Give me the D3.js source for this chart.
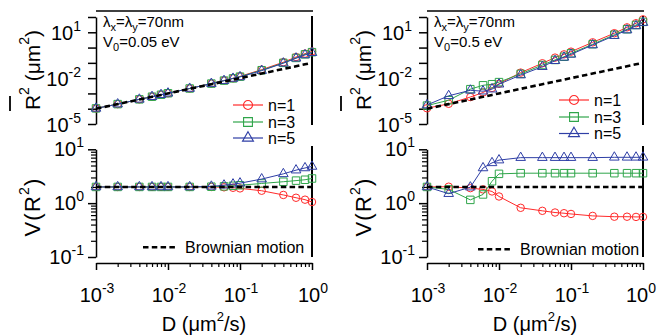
<!DOCTYPE html>
<html><head><meta charset="utf-8">
<script src="https://cdn.jsdelivr.net/npm/d3@7/dist/d3.min.js"></script>
<style>
body{margin:0;background:#fff}
text{font-family:"Liberation Sans",Arial,Helvetica,sans-serif;fill:#000}
</style>
</head><body>
<svg id="c" width="657" height="335"></svg>
<script>
// ---------------- data ----------------
const D_VALUES = [0.001,0.002,0.004,0.006,0.008,0.01,0.02,0.04,0.06,0.08,0.1,0.2,0.4,0.6,0.8,1.0];
const R2_BROWN = [1e-4,2e-4,4e-4,6e-4,8e-4,1e-3,2e-3,4e-3,6e-3,8e-3,1e-2,2e-2,4e-2,6e-2,8e-2,0.1];
const VR2_BROWN = [2,2,2,2,2,2,2,2,2,2,2,2,2,2,2,2];

// V0 = 0.05 eV
const R2_LOW_N1 = [1.05e-4,2.0e-4,4.1e-4,6.1e-4,8.2e-4,1.03e-3,2.1e-3,4.4e-3,7.0e-3,9.8e-3,1.3e-2,3.6e-2,0.11,0.24,0.40,0.56];
const R2_LOW_N3 = [1.05e-4,2.0e-4,4.1e-4,6.1e-4,8.2e-4,1.03e-3,2.1e-3,4.4e-3,6.9e-3,9.6e-3,1.25e-2,3.3e-2,0.10,0.21,0.36,0.50];
const R2_LOW_N5 = [1.05e-4,2.0e-4,4.1e-4,6.1e-4,8.2e-4,1.03e-3,2.1e-3,4.4e-3,6.8e-3,9.5e-3,1.2e-2,3.1e-2,0.095,0.20,0.33,0.46];
const V_LOW_N1 = [2,2,2,2,2,2,2,2,1.97,1.93,1.88,1.7,1.42,1.26,1.16,1.05];
const V_LOW_N3 = [2,2,2,2,2,2,2,2.02,2.05,2.1,2.15,2.32,2.5,2.62,2.72,2.87];
const V_LOW_N5 = [2,2,2,2,2,2,2,2.05,2.15,2.25,2.35,2.8,3.5,4.1,4.5,4.8];

// V0 = 0.5 eV
const R2_HIGH_N1 = [1.07e-4,2.1e-4,5.8e-4,1.15e-3,2.3e-3,4.3e-3,0.023,0.094,0.22,0.36,0.54,2.2,8.7,21,39,70];
const R2_HIGH_N3 = [1.6e-4,3.6e-4,1.9e-3,3.4e-3,4.0e-3,5.5e-3,0.019,0.072,0.155,0.25,0.42,1.65,6.9,15.8,30,48];
const R2_HIGH_N5 = [1.75e-4,7.0e-4,1.6e-3,1.4e-3,1.9e-3,4.0e-3,0.016,0.056,0.138,0.23,0.36,1.48,6.0,14,26,43];
const V_HIGH_N1 = [2.0,2.02,1.9,1.8,1.65,1.33,0.82,0.72,0.67,0.65,0.63,0.58,0.56,0.56,0.555,0.555];
const V_HIGH_N3 = [2.0,1.8,1.15,1.45,2.55,3.5,3.6,3.6,3.6,3.6,3.6,3.6,3.6,3.6,3.6,3.6];
const V_HIGH_N5 = [2.0,1.5,1.98,4.5,5.6,6.3,7.0,7.0,7.0,7.0,7.0,7.0,7.1,7.1,7.1,7.1];

const SERIES_LABELS = ['n=1','n=3','n=5'];
const BROWN_LABEL = 'Brownian motion';
const X_TICK_EXP = ['-3','-2','-1','0'];
const YTOP_TICK_EXP = ['1','-2','-5'];
const YBOT_TICK_EXP = ['1','0','-1'];
const V0_LABELS = ['0.05 eV','0.5 eV'];

// ---------------- drawing ----------------
const W = 657;
const svg = d3.select('#c');
const COLORS = ['#ff2a2a','#2fa54a','#2f3fa6'];
const SYMBOLS = [d3.symbolCircle, d3.symbolSquare, d3.symbolTriangle];
const DATA_SIZES = [44, 56, 40];
const LEG_SIZES = [64, 78, 52];

function zip(xs, ys){ return xs.map((x,i)=>[x, ys[i]]); }

function styleAxis(g, w){
  g.selectAll('path,line').attr('stroke','#000').attr('stroke-width', w);
  g.selectAll('text').remove();
}

function pow10(g, x, y, exp, anchor, fs, sfs, dy){
  const t = g.append('text').attr('x',x).attr('y',y).attr('text-anchor',anchor)
    .style('font-size', fs+'px');
  t.append('tspan').text('10');
  t.append('tspan').attr('dy',-dy).style('font-size', sfs+'px').text(exp);
  return t;
}

function minorTicks(lo, hi){
  const out = [];
  for (let e = Math.round(Math.log10(lo)); e < Math.round(Math.log10(hi)); e++){
    for (let k = 2; k <= 9; k++) out.push(k * Math.pow(10, e));
  }
  return out;
}

function panel(ox, leg, v0label, r2Series, vSeries){
  const x = d3.scaleLog().domain([1e-3, 1]).range([ox, ox + 216]);
  const yT = d3.scaleLog().domain([1e-5, 1e2]).range([124, 17]);
  const yB = d3.scaleLog().domain([0.1, 10]).range([257, 149.3]);
  const g = svg.append('g');

  // frame lines (mirror)
  g.append('line').attr('x1', ox).attr('x2', ox + 217).attr('y1', 11).attr('y2', 11)
    .attr('stroke','#000').attr('stroke-width',1.5);
  g.append('line').attr('x1', ox + 216).attr('x2', ox + 216).attr('y1', 16).attr('y2', 125)
    .attr('stroke','#000').attr('stroke-width',2);
  g.append('line').attr('x1', ox + 216).attr('x2', ox + 216).attr('y1', 146).attr('y2', 257)
    .attr('stroke','#000').attr('stroke-width',2);

  // top y axis
  const topDec = [1e-5,1e-4,1e-3,1e-2,1e-1,1,10,100];
  g.append('g').attr('transform',`translate(${ox},0)`)
    .call(d3.axisLeft(yT).tickValues(topDec).tickSize(8).tickSizeOuter(0).tickFormat(''))
    .call(a => styleAxis(a, 1.5));
  [10, 1e-2, 1e-5].forEach((v,i) => pow10(g, ox - 15, yT(v) + 7.5, YTOP_TICK_EXP[i], 'end', 20, 14, 9));

  // bottom y axis
  g.append('g').attr('transform',`translate(${ox},0)`)
    .call(d3.axisLeft(yB).tickValues([0.1,1,10]).tickSize(8).tickSizeOuter(0).tickFormat(''))
    .call(a => styleAxis(a, 1.5));
  g.append('g').attr('transform',`translate(${ox},0)`)
    .call(d3.axisLeft(yB).tickValues(minorTicks(0.1,10)).tickSize(5).tickSizeOuter(0).tickFormat(''))
    .call(a => { styleAxis(a, 1.2); a.select('.domain').remove(); });
  [10, 1, 0.1].forEach((v,i) => pow10(g, ox - 12, yB(v) + 7, YBOT_TICK_EXP[i], 'end', 20, 14, 9));

  // x axis
  g.append('g').attr('transform','translate(0,263)')
    .call(d3.axisBottom(x).tickValues([1e-3,1e-2,1e-1,1]).tickSize(7).tickSizeOuter(0).tickFormat(''))
    .call(a => styleAxis(a, 1.5));
  g.append('g').attr('transform','translate(0,263)')
    .call(d3.axisBottom(x).tickValues(minorTicks(1e-3,1)).tickSize(4).tickSizeOuter(0).tickFormat(''))
    .call(a => { styleAxis(a, 1.2); a.select('.domain').remove(); });
  [1e-3,1e-2,1e-1,1].forEach((v,i) => {
    const t = pow10(g, x(v) + 1, 302, X_TICK_EXP[i], 'middle', 20, 14, 9);
    const bb = t.node().getBBox();
    if (bb.x + bb.width > W - 1) t.attr('text-anchor','end').attr('x', W - 1);
  });

  // axis titles
  const xt = g.append('text').attr('x', ox + 108).attr('y', 331).attr('text-anchor','middle')
    .style('font-size','20px');
  xt.append('tspan').text('D (\u03bcm');
  xt.append('tspan').attr('dy',-10).style('font-size','13px').text('2');
  xt.append('tspan').attr('dy',10).text('/s)');

  const yt = g.append('text').style('font-size','21px');
  yt.append('tspan').text('R');
  yt.append('tspan').attr('dy',-11).style('font-size','14px').text('2');
  yt.append('tspan').attr('dy',11).text(' (\u03bcm');
  yt.append('tspan').attr('dy',-11).style('font-size','14px').text('2');
  yt.append('tspan').attr('dy',11).text(')');
  const Lt = yt.node().getComputedTextLength();
  const ys = 70 + Lt/2;
  yt.attr('transform',`translate(${ox - 56},${ys}) rotate(-90)`);
  g.append('line').attr('x1', ox - 86).attr('x2', ox - 86).attr('y1', ys + 1).attr('y2', ys - 14)
    .attr('stroke','#000').attr('stroke-width',1.8);

  const vt = g.append('text').style('font-size','22px').style('letter-spacing','1.2px');
  vt.append('tspan').text('V(R');
  vt.append('tspan').attr('dy',-11).style('font-size','14px').text('2');
  vt.append('tspan').attr('dy',11).text(')');
  const Lv = vt.node().getComputedTextLength();
  vt.attr('transform',`translate(${ox - 56},${207 + Lv/2}) rotate(-90)`);

  // annotation
  const a1 = g.append('text').attr('x', ox + 7).attr('y', 27).style('font-size','15px');
  a1.append('tspan').text('\u03bb');
  a1.append('tspan').attr('dy',4).style('font-size','11px').text('x');
  a1.append('tspan').attr('dy',-4).text('=\u03bb');
  a1.append('tspan').attr('dy',4).style('font-size','11px').text('y');
  a1.append('tspan').attr('dy',-4).text('=70nm');
  const a2 = g.append('text').attr('x', ox + 7).attr('y', 47).style('font-size','15px');
  a2.append('tspan').text('V');
  a2.append('tspan').attr('dy',4).style('font-size','11px').text('0');
  a2.append('tspan').attr('dy',-4).text('=' + v0label);

  // series
  const lineT = d3.line().x(d => x(d[0])).y(d => yT(d[1]));
  const lineB = d3.line().x(d => x(d[0])).y(d => yB(d[1]));
  r2Series.forEach((s,i) => {
    const pts = zip(D_VALUES, s);
    g.append('path').attr('d', lineT(pts)).attr('fill','none').attr('stroke', COLORS[i]).attr('stroke-width',1);
    g.selectAll(null).data(pts).enter().append('path')
      .attr('d', d3.symbol(SYMBOLS[i], DATA_SIZES[i]))
      .attr('transform', d => `translate(${x(d[0])},${yT(d[1])})`)
      .attr('fill','none').attr('stroke', COLORS[i]).attr('stroke-width',1);
  });
  vSeries.forEach((s,i) => {
    const pts = zip(D_VALUES, s);
    g.append('path').attr('d', lineB(pts)).attr('fill','none').attr('stroke', COLORS[i]).attr('stroke-width',1);
    g.selectAll(null).data(pts).enter().append('path')
      .attr('d', d3.symbol(SYMBOLS[i], DATA_SIZES[i]))
      .attr('transform', d => `translate(${x(d[0])},${yB(d[1])})`)
      .attr('fill','none').attr('stroke', COLORS[i]).attr('stroke-width',1);
  });
  // Brownian
  g.append('path').attr('d', lineT(zip(D_VALUES, R2_BROWN))).attr('fill','none')
    .attr('stroke','#000').attr('stroke-width',2.6).attr('stroke-dasharray','5.5,3.3');
  g.append('path').attr('d', lineB(zip(D_VALUES, VR2_BROWN))).attr('fill','none')
    .attr('stroke','#000').attr('stroke-width',2.6).attr('stroke-dasharray','5.5,3.3');

  // legend (series)
  SERIES_LABELS.forEach((lab,i) => {
    const y = leg.rows[i];
    const lx = ox + leg.dx;
    g.append('line').attr('x1', lx).attr('x2', lx + 30).attr('y1', y).attr('y2', y)
      .attr('stroke', COLORS[i]).attr('stroke-width',1.2);
    g.append('path').attr('d', d3.symbol(SYMBOLS[i], LEG_SIZES[i]))
      .attr('transform', `translate(${lx + 15},${y})`)
      .attr('fill','none').attr('stroke', COLORS[i]).attr('stroke-width',1.1);
    g.append('text').attr('x', lx + 35).attr('y', y + 5.8).style('font-size','16px').text(lab);
  });

  // legend (Brownian)
  const by = leg.by;
  g.append('line').attr('x1', ox + leg.bx).attr('x2', ox + leg.bx + 32).attr('y1', by).attr('y2', by)
    .attr('stroke','#000').attr('stroke-width',2.6).attr('stroke-dasharray','5.5,3.3');
  g.append('text').attr('x', ox + leg.bx + 42).attr('y', by + 5.8).style('font-size','16px').text(BROWN_LABEL);
}

panel(96, {rows:[105,122,138], dx:137, by:247.3, bx:47}, V0_LABELS[0],
  [R2_LOW_N1, R2_LOW_N3, R2_LOW_N5], [V_LOW_N1, V_LOW_N3, V_LOW_N5]);
panel(427, {rows:[100,117,133.5], dx:132, by:249.3, bx:51}, V0_LABELS[1],
  [R2_HIGH_N1, R2_HIGH_N3, R2_HIGH_N5], [V_HIGH_N1, V_HIGH_N3, V_HIGH_N5]);
</script>
</body></html>
